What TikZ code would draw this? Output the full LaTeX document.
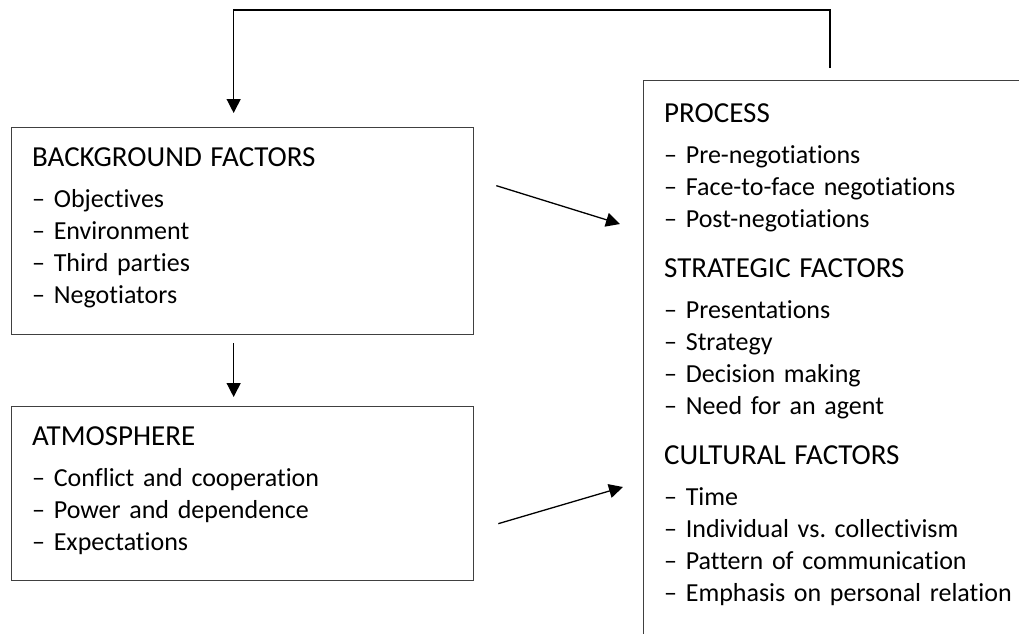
\documentclass[tikz,border=0pt]{standalone}
\usepackage{fontspec}
\setmainfont{Carlito}[Ligatures={TeX,NoCommon}, WordSpace=0.85]
\usetikzlibrary{positioning, arrows.meta}
\frenchspacing
\newcommand{\boxhead}[1]{{\fontsize{29pt}{32pt}\selectfont #1}}

\begin{document}
\begin{tikzpicture}[
    x=1pt, y=-1pt,
    box/.style={rectangle, draw=black!75, line width=1.3pt, inner sep=0pt, anchor=north west},
    txt/.style={anchor=north west, inner sep=0pt, align=left, text width=#1, font=\fontsize{26pt}{32pt}\selectfont},
    arr/.style={-{Triangle[length=14pt, width=14pt]}, line width=1.3pt}
]
\useasboundingbox (0,0) rectangle (1019,633);
\clip (0,0) rectangle (1019,633);

\node[box, minimum width=462pt, minimum height=207pt] (bg) at (11,127) {};
\node[box, minimum width=462pt, minimum height=174pt] (atm) at (11,406) {};
\node[box, minimum width=420pt, minimum height=600pt] (proc) at (643,80) {};

\node[txt=430pt] (bgtxt) at ([xshift=21pt,yshift=-20.6pt]bg.north west)
    {\boxhead{BACKGROUND FACTORS}\\[9pt] – Objectives\\ – Environment\\ – Third parties\\ – Negotiators};
\node[txt=430pt] (atmtxt) at ([xshift=21pt,yshift=-20.6pt]atm.north west)
    {\boxhead{ATMOSPHERE}\\[9pt] – Conflict and cooperation\\ – Power and dependence\\ – Expectations};
\node[txt=370pt] (proctxt) at ([xshift=21pt,yshift=-23.6pt]proc.north west)
    {\boxhead{PROCESS}\\[9pt] – Pre-negotiations\\ – Face-to-face negotiations\\ – Post-negotiations\\[18pt]
     \boxhead{STRATEGIC FACTORS}\\[9pt] – Presentations\\ – Strategy\\ – Decision making\\ – Need for an agent\\[18pt]
     \boxhead{CULTURAL FACTORS}\\[9pt] – Time\\ – Individual vs. collectivism\\ – Pattern of communication\\ – Emphasis on personal relation};

% feedback loop
\coordinate (fbstart) at (830,68);
\draw[arr] (fbstart) |- ([xshift=-9pt,yshift=117pt]bg.north) -- ([xshift=-9pt,yshift=14pt]bg.north);

\draw[arr] ([xshift=-9pt,yshift=-8pt]bg.south) -- ([xshift=-9pt,yshift=9pt]atm.north);
\draw[arr] ([xshift=22pt,yshift=45.5pt]bg.east) -- ([xshift=-23pt,yshift=-144pt]proc.north west);
\draw[arr] ([xshift=24pt,yshift=-30pt]atm.east) -- ([xshift=-20pt,yshift=-407pt]proc.north west);
\end{tikzpicture}
\end{document}
